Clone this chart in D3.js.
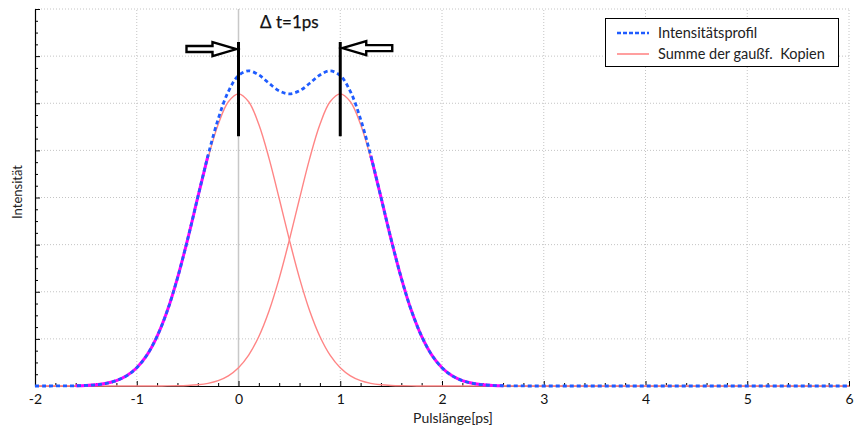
<!DOCTYPE html>
<html>
<head>
<meta charset="utf-8">
<script src="https://cdn.jsdelivr.net/npm/d3@7"></script>
<style>
  html, body { margin: 0; padding: 0; background: #fff; }
  svg { display: block; font-family: Lato, "Liberation Sans", sans-serif; }
</style>
</head>
<body>
<svg id="chart" width="855" height="432"></svg>
<script>
// Sample times (ps), every 0.1 ps from -2 to 6
const pulseTime = d3.range(81).map(i => Math.round((-2 + i * 0.1) * 10) / 10);

// Gaussian copy centred at 0 ps
const copyA = [
  0, 0, 0.001, 0.002, 0.005, 0.012, 0.027, 0.057, 0.114, 0.216,
  0.388, 0.656, 1.052, 1.593, 2.285, 3.1, 3.979, 4.831, 5.549, 6.031,
  6.2,
  6.031, 5.549, 4.831, 3.979, 3.1, 2.285, 1.593, 1.052, 0.656, 0.388,
  0.216, 0.114, 0.057, 0.027, 0.012, 0.005, 0.002, 0.001,
  0, 0, 0, 0, 0, 0, 0, 0, 0, 0, 0, 0, 0, 0, 0, 0, 0, 0, 0, 0, 0, 0,
  0, 0, 0, 0, 0, 0, 0, 0, 0, 0, 0, 0, 0, 0, 0, 0, 0, 0, 0, 0, 0, 0
];

// Gaussian copy centred at 1 ps
const copyB = [
  0, 0, 0, 0, 0, 0, 0, 0, 0, 0, 0, 0,
  0.001, 0.002, 0.005, 0.012, 0.027, 0.057, 0.114, 0.216, 0.388, 0.656,
  1.052, 1.593, 2.285, 3.1, 3.979, 4.831, 5.549, 6.031,
  6.2,
  6.031, 5.549, 4.831, 3.979, 3.1, 2.285, 1.593, 1.052, 0.656, 0.388,
  0.216, 0.114, 0.057, 0.027, 0.012, 0.005, 0.002, 0.001,
  0, 0, 0, 0, 0, 0, 0, 0, 0, 0, 0, 0, 0, 0, 0, 0,
  0, 0, 0, 0, 0, 0, 0, 0, 0, 0, 0, 0, 0, 0, 0, 0
];

// Resulting intensity profile
const profile = [
  0, 0, 0.001, 0.002, 0.005, 0.012, 0.027, 0.057, 0.114, 0.216,
  0.388, 0.656, 1.053, 1.595, 2.290, 3.112, 4.006, 4.888, 5.663, 6.247,
  6.588, 6.687, 6.601, 6.424, 6.264, 6.2, 6.264, 6.424, 6.601, 6.687,
  6.588, 6.247, 5.663, 4.888, 4.006, 3.112, 2.290, 1.595, 1.053, 0.656,
  0.388, 0.216, 0.114, 0.057, 0.027, 0.012, 0.005, 0.002, 0.001,
  0, 0, 0, 0, 0, 0, 0, 0, 0, 0, 0, 0, 0, 0, 0, 0,
  0, 0, 0, 0, 0, 0, 0, 0, 0, 0, 0, 0, 0, 0, 0, 0
];

const xTicks = [-2, -1, 0, 1, 2, 3, 4, 5, 6];
const xTickLabels = ["-2", "-1", "0", "1", "2", "3", "4", "5", "6"];
const yMajor = [0, 1, 2, 3, 4, 5, 6, 7, 8];
const seriesNames = ["Intensitätsprofil", "Summe der gaußf.  Kopien"];
const markerTimes = [0, 1];
const deltaLabel = "Δ t=1ps";

const svg = d3.select("#chart");
const x = d3.scaleLinear().domain([-2, 6]).range([35, 849]);
const y = d3.scaleLinear().domain([0, 8]).range([386, 9]);

const gridColor = "#c4c4c4";

// dotted grid
svg.append("g").selectAll("line").data(yMajor.slice(1)).join("line")
  .attr("x1", x(-2)).attr("x2", x(6))
  .attr("y1", d => y(d)).attr("y2", d => y(d))
  .attr("stroke", gridColor).attr("stroke-width", 1).attr("stroke-dasharray", "1,2");
svg.append("g").selectAll("line").data(xTicks.filter(d => d !== -2 && d !== 0)).join("line")
  .attr("x1", d => x(d)).attr("x2", d => x(d))
  .attr("y1", y(0)).attr("y2", y(8))
  .attr("stroke", gridColor).attr("stroke-width", 1).attr("stroke-dasharray", "1,2");

// solid reference line at t = 0
svg.append("line")
  .attr("x1", x(0)).attr("x2", x(0)).attr("y1", y(0)).attr("y2", y(8))
  .attr("stroke", "#c8c8c8").attr("stroke-width", 1.5);

// axes
const xAxis = d3.axisBottom(x).tickValues(xTicks)
  .tickFormat((d, i) => xTickLabels[i]).tickSizeInner(-5).tickSizeOuter(0).tickPadding(8);
const gx = svg.append("g").attr("transform", `translate(0,${y(0)})`).call(xAxis);
gx.select(".domain").attr("stroke", "#000").attr("stroke-width", 1.2);
gx.selectAll(".tick line").attr("stroke", "#000");
gx.selectAll("text").attr("font-size", 14).attr("fill", "#111").attr("font-family", "Lato, sans-serif");

const xMinor = d3.axisBottom(x).tickValues(d3.range(-2, 6.001, 0.2).filter(v => Math.abs(v - Math.round(v)) > 1e-6))
  .tickSizeInner(-3).tickSizeOuter(0).tickFormat("");
const gxm = svg.append("g").attr("transform", `translate(0,${y(0)})`).call(xMinor);
gxm.select(".domain").remove();
gxm.selectAll(".tick line").attr("stroke", "#000");

const yAxis = d3.axisLeft(y).tickValues(yMajor).tickSizeInner(-5).tickSizeOuter(0).tickFormat("");
const gy = svg.append("g").attr("transform", `translate(${x(-2)},0)`).call(yAxis);
gy.select(".domain").attr("stroke", "#000").attr("stroke-width", 1.2);
gy.selectAll(".tick line").attr("stroke", "#000");

const yMinor = d3.axisLeft(y).tickValues(d3.range(0, 8.001, 0.25).filter(v => Math.abs(v - Math.round(v)) > 1e-6))
  .tickSizeInner(-3).tickSizeOuter(0).tickFormat("");
const gym = svg.append("g").attr("transform", `translate(${x(-2)},0)`).call(yMinor);
gym.select(".domain").remove();
gym.selectAll(".tick line").attr("stroke", "#000");

// axis titles
svg.append("text").attr("x", 453).attr("y", 423).attr("text-anchor", "middle")
  .attr("font-size", 14).attr("fill", "#222").text("Pulslänge[ps]");
svg.append("text").attr("transform", "translate(22,192) rotate(-90)").attr("text-anchor", "middle")
  .attr("font-size", 13).attr("fill", "#222").text("Intensität");

// curves
const pts = arr => arr.map((v, i) => [pulseTime[i], v]);
const line = d3.line().x(d => x(d[0])).y(d => y(d[1])).curve(d3.curveCatmullRom);

const redColor = "#ff8585";
[copyA, copyB].forEach(c => {
  svg.append("path").datum(pts(c)).attr("d", line)
    .attr("fill", "none").attr("stroke", redColor).attr("stroke-width", 1.4);
});

// where the profile runs on top of a single copy the two strokes merge into magenta
const merged = profile.map((v, i) => {
  const t = pulseTime[i];
  const diff = Math.min(Math.abs(v - copyA[i]), Math.abs(v - copyB[i]));
  return [t, v, diff <= 0.06 && t > -1.65 && t < 2.7];
});
const mergedLine = d3.line().defined(d => d[2]).x(d => x(d[0])).y(d => y(d[1])).curve(d3.curveCatmullRom);
svg.append("path").datum(merged).attr("d", mergedLine)
  .attr("fill", "none").attr("stroke", "#ff00ff").attr("stroke-width", 3);

svg.append("path").datum(pts(profile)).attr("d", line)
  .attr("fill", "none").attr("stroke", "#1f5cff").attr("stroke-width", 2.8)
  .attr("stroke-dasharray", "4,3");

// time markers and arrows
svg.append("g").selectAll("line").data(markerTimes).join("line")
  .attr("x1", d => x(d)).attr("x2", d => x(d))
  .attr("y1", y(5.3)).attr("y2", y(7.3))
  .attr("stroke", "#000").attr("stroke-width", 3);

function arrowPath(tipX, dir, cy) {
  // dir = +1 points right, -1 points left
  const headLen = 24, shaftLen = 26, headH = 7, shaftH = 3;
  const hx = tipX - dir * headLen, sx = hx - dir * shaftLen;
  return `M${tipX},${cy} L${hx},${cy - headH} L${hx},${cy - shaftH} L${sx},${cy - shaftH} ` +
         `L${sx},${cy + shaftH} L${hx},${cy + shaftH} L${hx},${cy + headH} Z`;
}
svg.append("path").attr("d", arrowPath(x(markerTimes[0]) - 2, 1, y(7.15)))
  .attr("fill", "#fff").attr("stroke", "#000").attr("stroke-width", 2.4).attr("stroke-linejoin", "miter");
svg.append("path").attr("d", arrowPath(x(markerTimes[1]) + 2, -1, y(7.17)))
  .attr("fill", "#fff").attr("stroke", "#000").attr("stroke-width", 2.4).attr("stroke-linejoin", "miter");

svg.append("text").attr("x", x(0.5)).attr("y", y(7.6)).attr("text-anchor", "middle")
  .attr("font-size", 17).attr("fill", "#111").attr("stroke", "#111").attr("stroke-width", 0.25)
  .text(deltaLabel);

// legend
const lg = svg.append("g");
lg.append("rect").attr("x", 605.5).attr("y", 18.5).attr("width", 233).attr("height", 48)
  .attr("fill", "#fff").attr("stroke", "#000").attr("stroke-width", 1);
lg.append("line").attr("x1", 617).attr("x2", 649).attr("y1", 33).attr("y2", 33)
  .attr("stroke", "#1f5cff").attr("stroke-width", 2.6).attr("stroke-dasharray", "4,2");
lg.append("line").attr("x1", 617).attr("x2", 649).attr("y1", 54).attr("y2", 54)
  .attr("stroke", "#ff6b6b").attr("stroke-width", 1.3);
lg.selectAll("text").data(seriesNames).join("text")
  .attr("x", 658).attr("y", (d, i) => 38 + i * 21)
  .attr("font-size", 14.5).attr("fill", "#222").style("white-space", "pre").text(d => d);
</script>
</body>
</html>
